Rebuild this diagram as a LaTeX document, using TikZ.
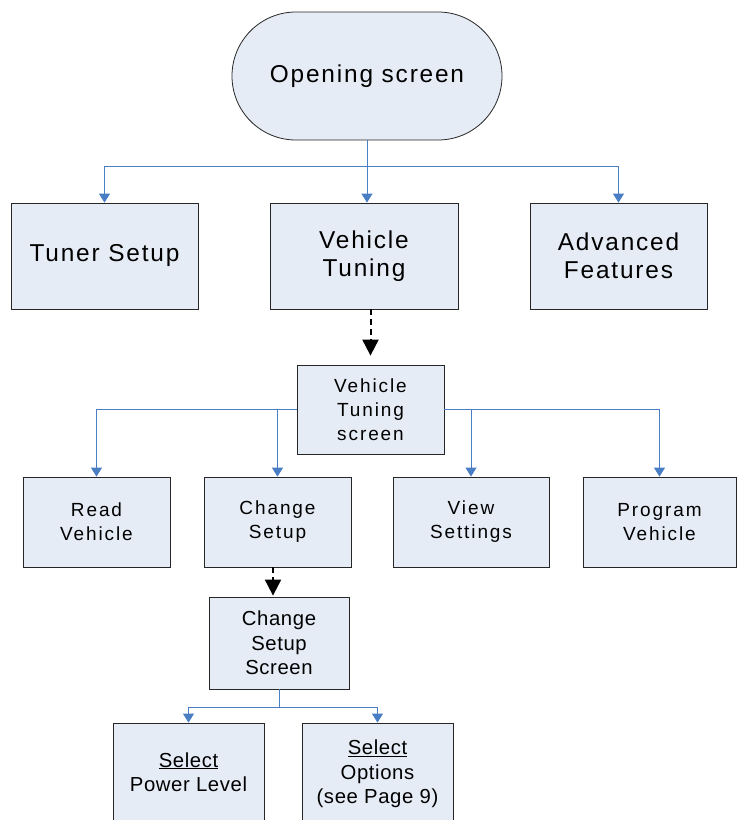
\documentclass[tikz,border=0pt]{standalone}
\usepackage{fontspec}
\setmainfont{Liberation Sans}
\usetikzlibrary{arrows.meta,calc}
\definecolor{boxfill}{HTML}{E6ECF6}
\definecolor{linkblue}{HTML}{4A7EC4}
\begin{document}
\begin{tikzpicture}[x=1pt,y=-1pt,
  box/.style={draw=black!85, line width=0.8pt, fill=boxfill, inner sep=0pt, align=center},
  bigtxt/.style={font=\fontsize{24.4}{28}\selectfont\addfontfeature{LetterSpace=7.5}},
  midtxt/.style={font=\fontsize{19}{24}\selectfont\addfontfeature{LetterSpace=10}},
  smalltxt/.style={font=\fontsize{20.3}{24.5}\selectfont\addfontfeature{LetterSpace=3}},
  link/.style={draw=linkblue, line width=0.9pt, -{Triangle[width=11pt,length=9pt]}},
  dasharrow/.style={draw=black, line width=2pt, dash pattern=on 6pt off 4pt, -{Triangle[width=16pt,length=16pt]}}]
\clip (0,0) rectangle (737,820);
\fill[white] (0,0) rectangle (737,820);

% level 0
\node[box, bigtxt, rounded corners=63.9pt, minimum width=270pt, minimum height=128pt] (open) at (367,76) {Opening screen};

% level 1
\node[box, bigtxt, minimum width=187pt, minimum height=106pt] (tuner) at (104.5,256) {Tuner Setup};
\node[box, bigtxt, minimum width=188pt, minimum height=106pt] (vt) at (364,256) {Vehicle\\Tuning};
\node[box, bigtxt, minimum width=177pt, minimum height=106pt] (adv) at (618.5,256) {Advanced\\Features};

% level 2
\node[box, midtxt, minimum width=147pt, minimum height=89pt] (vts) at (370.5,409.5) {Vehicle\\Tuning\\screen};
\node[box, midtxt, minimum width=147pt, minimum height=90pt] (read) at (96.5,522) {Read\\Vehicle};
\node[box, midtxt, minimum width=147pt, minimum height=90pt] (cs) at (277.5,522) {Change\\Setup};
\node[box, midtxt, minimum width=156pt, minimum height=90pt] (view) at (471,522) {View\\Settings};
\node[box, midtxt, minimum width=153pt, minimum height=90pt] (prog) at (659.5,522) {Program\\Vehicle};

% level 3
\node[box, smalltxt, minimum width=140pt, minimum height=92pt] (css) at (279,643) {Change\\Setup\\Screen};
\node[box, smalltxt, minimum width=151pt, minimum height=98pt] (spl) at (188.5,772) {\underline{Select}\\Power Level};
\node[box, smalltxt, minimum width=151pt, minimum height=102pt] (so) at (377.5,774) {\underline{Select}\\Options\\(see Page 9)};

% connectors
\coordinate (bus1) at (367,166);
\draw[link] (open.south) -- (open.south |- vt.north);
\draw[link] (open.south) -- (bus1) -| (tuner.north);
\draw[link] (open.south) -- (bus1) -| (adv.north);

\draw[dasharrow, shorten >=9pt] (vts.north |- vt.south) -- (vts.north);

\draw[link] (vts.west) -| (read.north);
\draw[link] (vts.west) -| (cs.north);
\draw[link] (vts.east) -| (view.north);
\draw[link] (vts.east) -| (prog.north);

\draw[dasharrow, shorten >=1pt] ([xshift=-4.5pt]cs.south) -- ([xshift=-4.5pt]cs.south |- css.north);

\coordinate (bus3) at (279,707);
\draw[link] (css.south) -- (bus3) -| (spl.north);
\draw[link] (css.south) -- (bus3) -| (so.north);
\end{tikzpicture}
\end{document}
